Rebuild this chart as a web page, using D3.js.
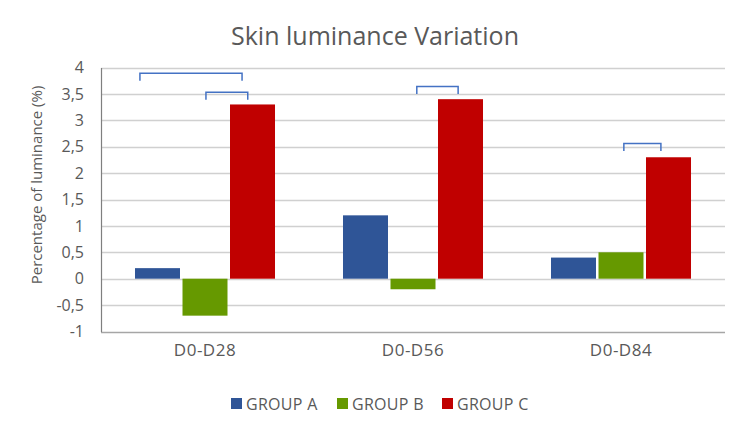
<!DOCTYPE html>
<html>
<head>
<meta charset="utf-8">
<script src="https://cdn.jsdelivr.net/npm/d3@7"></script>
<style>
  html, body { margin: 0; padding: 0; background: #fff; }
  svg { display: block; }
  text { font-family: "Open Sans", Lato, sans-serif; fill: #595959; }
</style>
</head>
<body>
<svg id="chart" width="750" height="435"></svg>
<script>
// ---- data ----
const categories = ["D0-D28", "D0-D56", "D0-D84"];
const groups = ["GROUP A", "GROUP B", "GROUP C"];
const groupA = [0.2, 1.2, 0.4];
const groupB = [-0.7, -0.2, 0.5];
const groupC = [3.3, 3.4, 2.3];
const yTicks = [-1, -0.5, 0, 0.5, 1, 1.5, 2, 2.5, 3, 3.5, 4];
const colors = ["#2F5597", "#669900", "#C00000"];
// significance brackets: category, from/to in bar-index units, level in y units
const brackets = [
  { cat: "D0-D28", from: -0.37, to: 1.78, level: 3.89 },
  { cat: "D0-D28", from: 1.02, to: 1.90, level: 3.53 },
  { cat: "D0-D56", from: 1.08, to: 1.95, level: 3.64 },
  { cat: "D0-D84", from: 1.06, to: 1.84, level: 2.56 }
];

const series = [groupA, groupB, groupC];
const table = [];
categories.forEach((c, i) => groups.forEach((g, j) => table.push({ cat: c, group: g, gi: j, value: series[j][i] })));

const svg = d3.select("#chart");
const mLeft = 101, mRight = 725, mTop = 67.5, mBottom = 331.5;

const y = d3.scaleLinear().domain([-1, 4]).range([mBottom, mTop]);
const p = 0.3269;
const x0 = d3.scaleBand().domain(categories).range([mLeft, mRight]).paddingInner(p).paddingOuter(p / 2);
const x1 = d3.scaleBand().domain(groups).range([0, x0.bandwidth()]).paddingInner(2.5 / 47.5);

// title
svg.append("text").attr("x", 375).attr("y", 45).attr("text-anchor", "middle")
  .style("font-size", "25px").text("Skin luminance Variation");

// gridlines
svg.append("g").selectAll("line").data(yTicks.filter(t => t > -1)).join("line")
  .attr("x1", mLeft).attr("x2", mRight)
  .attr("y1", d => Math.round(y(d)) + 0.5).attr("y2", d => Math.round(y(d)) + 0.5)
  .attr("stroke", "#d0d0d0").attr("stroke-width", 1.3);

// bars
svg.append("g").selectAll("rect").data(table).join("rect")
  .attr("x", d => x0(d.cat) + x1(d.group))
  .attr("width", x1.bandwidth())
  .attr("y", d => y(Math.max(0, d.value)))
  .attr("height", d => Math.abs(y(d.value) - y(0)))
  .attr("fill", d => colors[d.gi]);

// bottom axis line
svg.append("line").attr("x1", mLeft).attr("x2", mRight)
  .attr("y1", Math.round(y(-1)) + 0.5).attr("y2", Math.round(y(-1)) + 0.5)
  .attr("stroke", "#a6a6a6").attr("stroke-width", 1.3);

// left axis
const yAxis = d3.axisLeft(y).tickValues(yTicks).tickSize(0).tickPadding(17)
  .tickFormat(d => String(d).replace(".", ","));
const gy = svg.append("g").attr("transform", `translate(${mLeft},0)`).call(yAxis);
gy.select(".domain").attr("stroke", "#7f7f7f").attr("stroke-width", 1.2);
gy.selectAll("text").style("font-size", "16px").style("font-family", "'Open Sans', Lato, sans-serif").attr("fill", "#595959");

// x labels
const xAxis = d3.axisBottom(x0).tickSize(0).tickPadding(12);
const gx = svg.append("g").attr("transform", `translate(0,${mBottom})`).call(xAxis);
gx.select(".domain").remove();
gx.selectAll("text").style("font-size", "17px").style("letter-spacing", "0.5px")
  .style("font-family", "'Open Sans', Lato, sans-serif").attr("fill", "#595959");

// y title
svg.append("text").attr("transform", `translate(42,185) rotate(-90)`).attr("text-anchor", "middle")
  .style("font-size", "15px").text("Percentage of luminance (%)");

// brackets
const step = x1.step();
const barCenter = (cat, idx) => x0(cat) + x1.bandwidth() / 2 + idx * step;
svg.append("g").selectAll("path").data(brackets).join("path")
  .attr("d", d => {
    const xa = barCenter(d.cat, d.from), xb = barCenter(d.cat, d.to), yt = y(d.level);
    return `M${xa},${yt + 7.5}V${yt}H${xb}V${yt + 7.5}`;
  })
  .attr("fill", "none").attr("stroke", "#4472C4").attr("stroke-width", 1.5);

// legend
const legendX = [231, 337, 442];
const lg = svg.append("g");
groups.forEach((g, i) => {
  lg.append("rect").attr("x", legendX[i]).attr("y", 398).attr("width", 11).attr("height", 11).attr("fill", colors[i]);
  lg.append("text").attr("x", legendX[i] + 15).attr("y", 410).style("font-size", "16px")
    .style("letter-spacing", "0.3px").text(g);
});
</script>
</body>
</html>
